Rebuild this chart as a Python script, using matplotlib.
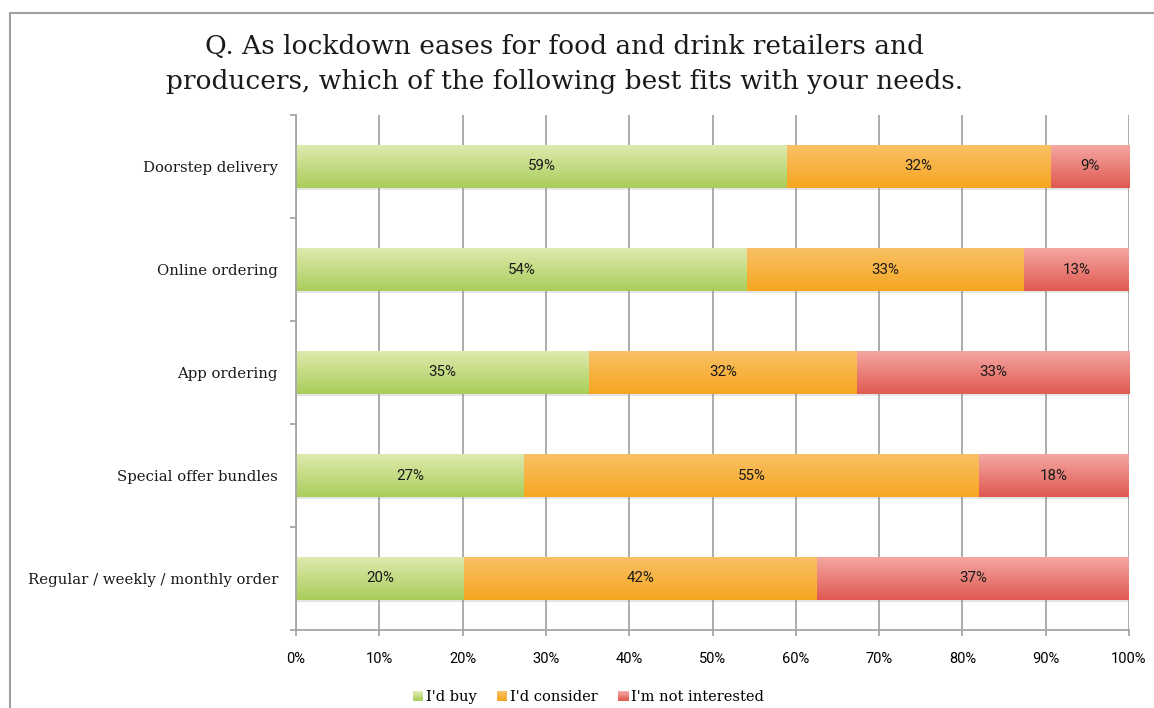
import matplotlib
matplotlib.use("Agg")  # no display
import matplotlib.pyplot as plt
import matplotlib.patheffects as pe
import numpy as np
from matplotlib.colors import to_rgb
from matplotlib.legend_handler import HandlerBase
from matplotlib.lines import Line2D
from matplotlib.patches import Rectangle

# Survey answers (percent of respondents)
categories = [
    "Doorstep delivery",
    "Online ordering",
    "App ordering",
    "Special offer bundles",
    "Regular / weekly / monthly order",
]
buy = [58.9, 54.1, 35.2, 27.4, 20.2]
consider = [31.7, 33.3, 32.1, 54.6, 42.4]
not_interested = [9.4, 12.6, 32.7, 18.0, 37.4]
series_names = ["I'd buy", "I'd consider", "I'm not interested"]
x_ticks = list(range(0, 101, 10))

title = ("Q. As lockdown eases for food and drink retailers and\n"
         "producers, which of the following best fits with your needs.")

# (top, bottom) colours of the vertical gradient on each series
gradients = [("#e0ebb0", "#a9cd5a"), ("#f9c166", "#f6a621"), ("#f5a8a4", "#df5a50")]

SERIF = "DejaVu Serif"
SANS = "Roboto"
GRID = "#a6a6a6"


def gradient_img(top, bottom, n=64):
    c0 = np.array(to_rgb(top))
    c1 = np.array(to_rgb(bottom))
    t = np.linspace(0, 1, n)[:, None]
    return (c0 * (1 - t) + c1 * t)[:, None, :]


class GradientHandler(HandlerBase):
    """Legend square filled with the same top-to-bottom gradient."""

    def __init__(self, top, bottom):
        super().__init__()
        self.top, self.bottom = top, bottom

    def create_artists(self, legend, orig_handle, xdescent, ydescent,
                       width, height, fontsize, trans):
        n = 8
        cols = gradient_img(self.top, self.bottom, n)[:, 0, :]
        side = height
        x0 = -xdescent + (width - side) / 2
        y0 = -ydescent
        arts = []
        for i in range(n):
            r = Rectangle((x0, y0 + side * (n - 1 - i) / n), side, side / n,
                          facecolor=cols[i], edgecolor="none", transform=trans)
            arts.append(r)
        return arts


fig = plt.figure(figsize=(11.54, 7.08), dpi=100)
ax = fig.add_axes([296 / 1154, 1 - 630 / 708, (1129 - 296) / 1154, (630 - 115) / 708])

y = np.arange(len(categories))
left = np.zeros(len(categories))
bar_h = 0.42
handles = []
for vals, name, (top, bottom) in zip([buy, consider, not_interested], series_names, gradients):
    vals = np.array(vals)
    bars = ax.barh(y, vals, left=left, height=bar_h, color=bottom, linewidth=0,
                   label=name, zorder=2,
                   path_effects=[pe.SimplePatchShadow(offset=(0, -1.5), shadow_rgbFace="#8a8a8a", alpha=0.22),
                                 pe.Normal()])
    handles.append(bars)
    for bar, v in zip(bars, vals):
        x0, y0 = bar.get_x(), bar.get_y()
        w, h = bar.get_width(), bar.get_height()
        im = ax.imshow(gradient_img(top, bottom), extent=(x0, x0 + w, y0 + h, y0),
                       aspect="auto", origin="upper", interpolation="bilinear", zorder=2.1)
        im.set_clip_path(bar)
        ax.text(x0 + w / 2, y0 + h / 2, f"{v:.0f}%", ha="center", va="center",
                fontsize=10.8, family=SANS, color="#1a1a1a", zorder=3)
    left += vals

ax.set_xlim(0, 100)
ax.set_ylim(len(categories) - 0.5, -0.5)

# x axis: percent ticks with vertical gridlines
ax.set_xticks(x_ticks)
ax.set_xticklabels([f"{t}%" for t in x_ticks], family=SANS, fontsize=10.5)
ax.xaxis.grid(True, color=GRID, linewidth=1.3)
ax.set_axisbelow(True)
ax.tick_params(axis="x", length=4, width=1.3, color=GRID, pad=12)

# y axis: ticks between categories, labels at the bar centres
ax.set_yticks(np.arange(-0.5, len(categories), 1))
ax.set_yticklabels([])
ax.set_yticks(y, minor=True)
ax.set_yticklabels(categories, minor=True, family=SERIF, fontsize=10.7, color="#1a1a1a")
ax.tick_params(axis="y", which="major", length=4, width=1.3, color=GRID)
ax.tick_params(axis="y", which="minor", length=0, pad=13)

for side in ["top", "right"]:
    ax.spines[side].set_visible(False)
for side in ["left", "bottom"]:
    ax.spines[side].set_color(GRID)
    ax.spines[side].set_linewidth(1.3)

fig.text(0.489, 1 - 64 / 708, title, ha="center", va="center", fontsize=19,
         family=SERIF, color="#1a1a1a", linespacing=1.5)

fig.legend(handles, series_names, loc="center", bbox_to_anchor=(0.51, 1 - 697 / 708),
           ncol=3, frameon=False, prop={"family": SERIF, "size": 10.5},
           handler_map={h: GradientHandler(t, b) for h, (t, b) in zip(handles, gradients)},
           handlelength=0.7, handleheight=0.7, handletextpad=0.2, columnspacing=1.4)

# outer chart frame (left and top edges)
fx = 10 / 1154
fy = 1 - 13 / 708
fig.add_artist(Line2D([fx, fx, 1], [0, fy, fy], transform=fig.transFigure,
                      color="#a0a0a0", linewidth=1.5))

fig.savefig("out.png", dpi=100)
